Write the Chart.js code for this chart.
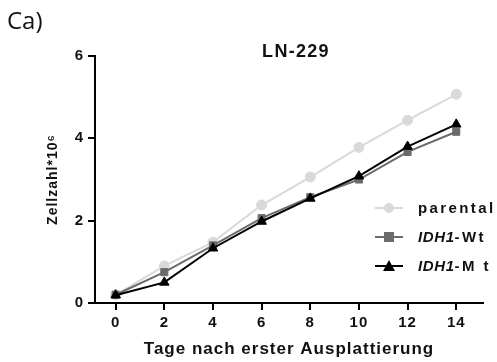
<!DOCTYPE html>
<html>
<head>
<meta charset="utf-8">
<script src="https://cdn.jsdelivr.net/npm/chart.js@4.4.0/dist/chart.umd.min.js"></script>
<style>
  html, body { margin: 0; padding: 0; background: #fff; }
  #wrap { position: relative; width: 497px; height: 362px; overflow: hidden; }
  canvas { position: absolute; left: 0; top: 0; }
  .txt { position: absolute; white-space: nowrap; color: #111; }
  #panel { left: 7px; top: 8px; font: 400 24px "Open Sans", sans-serif; line-height: 1; }
  #ttl { left: 296px; top: 42px; transform: translateX(-50%); font: 700 18px "Liberation Sans", Arial, sans-serif; letter-spacing: 1.3px; line-height: 1; }
  .leg { position: absolute; left: 375px; width: 122px; height: 16px; white-space: nowrap; font: 700 15px "Liberation Sans", Arial, sans-serif; letter-spacing: 2.4px; line-height: 16px; color: #111; }
  .leg .ln { position: absolute; left: 0; top: 7px; width: 28px; height: 2px; }
  .leg .mk { position: absolute; }
  .leg .lab { position: absolute; left: 43px; top: 0; white-space: nowrap; }
  .leg i { font-style: italic; letter-spacing: 0.6px; }
</style>
</head>
<body>
<div id="wrap">
  <canvas id="c" width="497" height="362"></canvas>
  <div class="txt" id="panel">Ca)</div>
  <div class="txt" id="ttl">LN-229</div>
  <div class="leg" style="top:200px">
    <div class="ln" style="background:#d9d9d9"></div>
    <div class="mk" style="left:9px;top:3px;width:10px;height:10px;border-radius:50%;background:#d9d9d9"></div>
    <div class="lab">parental</div>
  </div>
  <div class="leg" style="top:229px">
    <div class="ln" style="background:#6b6b6b"></div>
    <div class="mk" style="left:9px;top:3px;width:10px;height:10px;background:#6b6b6b"></div>
    <div class="lab"><i>IDH1</i>-Wt</div>
  </div>
  <div class="leg" style="top:258px">
    <div class="ln" style="background:#000"></div>
    <div class="mk" style="left:8px;top:2px;width:0;height:0;border-left:6px solid transparent;border-right:6px solid transparent;border-bottom:11px solid #000"></div>
    <div class="lab"><i>IDH1</i>-M t</div>
  </div>
</div>
<script>
const days = [0, 2, 4, 6, 8, 10, 12, 14];
const parental = [0.20, 0.90, 1.48, 2.38, 3.06, 3.78, 4.44, 5.07];
const idh1Wt   = [0.20, 0.75, 1.40, 2.06, 2.57, 3.00, 3.67, 4.16];
const idh1Mt   = [0.19, 0.50, 1.33, 1.98, 2.54, 3.08, 3.80, 4.34];
const xTicks = [0, 2, 4, 6, 8, 10, 12, 14];
const yTicks = [0, 2, 4, 6];

const pts = arr => days.map((d, i) => ({ x: d, y: arr[i] }));
const tickFont = { family: "Liberation Sans", weight: "bold", size: 15 };

const spacing = {
  id: 'spacing',
  beforeDraw(chart) { chart.ctx.letterSpacing = '1px'; }
};

new Chart(document.getElementById('c'), {
  type: 'line',
  plugins: [spacing],
  data: {
    datasets: [
      { label: 'IDH1-Mt', data: pts(idh1Mt), borderColor: '#000', backgroundColor: '#000',
        borderWidth: 2, pointStyle: 'triangle', pointRadius: 5.5, pointBorderWidth: 1 },
      { label: 'IDH1-Wt', data: pts(idh1Wt), borderColor: '#6b6b6b', backgroundColor: '#6b6b6b',
        borderWidth: 2, pointStyle: 'rect', pointRadius: 5, pointBorderWidth: 1 },
      { label: 'parental', data: pts(parental), borderColor: '#d9d9d9', backgroundColor: '#d9d9d9',
        borderWidth: 2, pointStyle: 'circle', pointRadius: 5, pointBorderWidth: 1 }
    ]
  },
  options: {
    responsive: false,
    animation: false,
    layout: { padding: { left: 0, right: 14, top: 56, bottom: 0 } },
    plugins: { legend: { display: false }, tooltip: { enabled: false }, title: { display: false } },
    scales: {
      x: {
        type: 'linear', min: -0.85, max: 15.1,
        afterBuildTicks: s => { s.ticks = xTicks.map(v => ({ value: v })); },
        afterFit: s => { s.height = 59; },
        border: { display: true, color: '#000', width: 2 },
        grid: { drawOnChartArea: false, drawTicks: true, tickLength: 7, color: '#000', lineWidth: 2 },
        ticks: { color: '#111', font: tickFont, padding: 4, maxRotation: 0 },
        title: { display: true, text: 'Tage nach erster Ausplattierung', color: '#111',
                 font: { family: "Liberation Sans", weight: "bold", size: 17 }, padding: { top: 0, bottom: 2 } }
      },
      y: {
        type: 'linear', min: 0, max: 6,
        afterBuildTicks: s => { s.ticks = yTicks.map(v => ({ value: v })); },
        afterFit: s => { s.width = 95; },
        border: { display: true, color: '#000', width: 2 },
        grid: { drawOnChartArea: false, drawTicks: true, tickLength: 7, color: '#000', lineWidth: 2 },
        ticks: { color: '#111', font: tickFont, padding: 4 },
        title: { display: true, text: 'Zellzahl*10\u2076', color: '#111',
                 font: { family: "Liberation Sans", weight: "bold", size: 14 }, padding: { top: 45, bottom: 0 } }
      }
    }
  }
});
</script>
</body>
</html>
